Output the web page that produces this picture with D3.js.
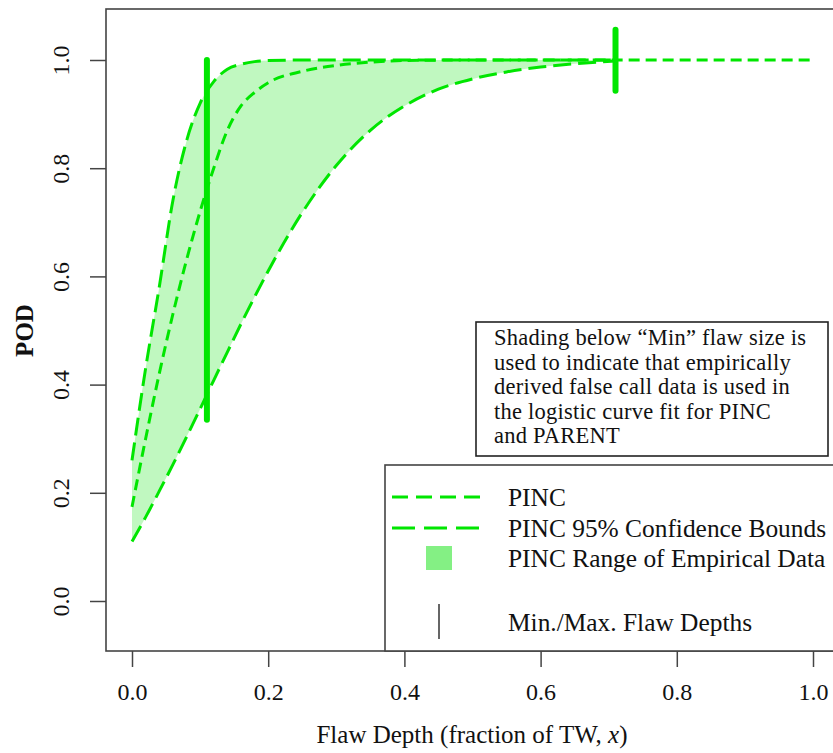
<!DOCTYPE html>
<html>
<head>
<meta charset="utf-8">
<script src="https://cdn.jsdelivr.net/npm/d3@7"></script>
<style>
  html, body { margin: 0; padding: 0; background: #fff; }
  svg { display: block; }
  text { font-family: "Liberation Serif", "Times New Roman", serif; fill: #111; }
</style>
</head>
<body>
<svg id="chart" width="833" height="753"></svg>
<script>
// ---- data ----
const boundX   = [0, 0.02, 0.04, 0.06, 0.08, 0.10, 0.12, 0.14, 0.16, 0.18, 0.20, 0.25, 0.30, 0.35, 0.40, 0.45, 0.50, 0.55, 0.60, 0.65, 0.71];
const upperPOD = [0.26, 0.43, 0.58, 0.74, 0.85, 0.92, 0.96, 0.983, 0.992, 0.997, 0.999, 1.0, 1.0, 1.0, 1.0, 1.0, 1.0, 1.0, 1.0, 1.0, 1.0];
const lowerPOD = [0.11, 0.155, 0.203, 0.252, 0.303, 0.355, 0.408, 0.46, 0.512, 0.562, 0.61, 0.718, 0.805, 0.87, 0.915, 0.946, 0.965, 0.978, 0.987, 0.993, 0.998];
const pincX    = [0, 0.02, 0.04, 0.06, 0.08, 0.10, 0.12, 0.14, 0.16, 0.18, 0.20, 0.25, 0.30, 0.35, 0.40, 0.50, 0.60, 0.70, 0.80, 0.90, 1.0];
const pincPOD  = [0.174, 0.30, 0.42, 0.53, 0.63, 0.72, 0.80, 0.87, 0.915, 0.94, 0.958, 0.979, 0.99, 0.996, 0.999, 1.0, 1.0, 1.0, 1.0, 1.0, 1.0];
const flawDepthX  = [0.11, 0.71];
const flawDepthLo = [0.335, 0.943];
const flawDepthHi = [1.0, 1.056];
const xTicks = [0, 0.2, 0.4, 0.6, 0.8, 1.0];
const yTicks = [0, 0.2, 0.4, 0.6, 0.8, 1.0];
const legendLabels = ["PINC", "PINC 95% Confidence Bounds", "PINC Range of Empirical Data", "Min./Max. Flaw Depths"];
const noteLines = ["Shading below \u201CMin\u201D flaw size is", "used to indicate that empirically", "derived false call data is used in", "the logistic curve fit for PINC", "and PARENT"];

// ---- layout ----
const svg = d3.select("#chart");
const GREEN = "#00e600";
const FILL = "#c0f8c0";
const x = d3.scaleLinear().domain([0, 1]).range([132, 813]);
const y = d3.scaleLinear().domain([0, 1]).range([601, 60]);
const box = {l: 106, t: 9, r: 840, b: 651};

svg.append("rect").attr("width", 833).attr("height", 753).attr("fill", "#fff");

// fill between bounds
const band = boundX.map((d, i) => ({x: d, lo: lowerPOD[i], hi: upperPOD[i]}));
svg.append("path").datum(band)
  .attr("fill", FILL)
  .attr("d", d3.area().x(d => x(d.x)).y0(d => y(d.lo)).y1(d => y(d.hi)).curve(d3.curveMonotoneX));

const lineGen = d3.line().x(d => x(d[0])).y(d => y(d[1])).curve(d3.curveMonotoneX);
// bounds
[upperPOD, lowerPOD].forEach(arr => {
  svg.append("path").datum(boundX.map((d, i) => [d, arr[i]]))
    .attr("fill", "none").attr("stroke", GREEN).attr("stroke-width", 3)
    .attr("stroke-dasharray", "18,7").attr("d", lineGen);
});
// PINC
svg.append("path").datum(pincX.map((d, i) => [d, pincPOD[i]]))
  .attr("fill", "none").attr("stroke", GREEN).attr("stroke-width", 3)
  .attr("stroke-dasharray", "11,6").attr("d", lineGen);

// min / max flaw depth lines
svg.selectAll(".flaw").data(flawDepthX).enter().append("line")
  .attr("x1", d => x(d)).attr("x2", d => x(d))
  .attr("y1", (d, i) => y(flawDepthLo[i])).attr("y2", (d, i) => y(flawDepthHi[i]))
  .attr("stroke", GREEN).attr("stroke-width", 6).attr("stroke-linecap", "round");

// plot box
svg.append("rect").attr("x", box.l).attr("y", box.t).attr("width", box.r - box.l).attr("height", box.b - box.t)
  .attr("fill", "none").attr("stroke", "#444").attr("stroke-width", 1.6);

// axes
const xAxis = svg.append("g").attr("transform", `translate(0,${box.b})`)
  .call(d3.axisBottom(x).tickValues(xTicks).tickFormat(d3.format(".1f")).tickSize(16).tickPadding(16));
xAxis.select(".domain").remove();
xAxis.selectAll(".tick line").attr("stroke", "#444").attr("stroke-width", 1.5);
xAxis.selectAll(".tick text").attr("font-size", 24).attr("font-family", "Liberation Serif").attr("fill", "#111");

const yAxis = svg.append("g").attr("transform", `translate(${box.l},0)`)
  .call(d3.axisLeft(y).tickValues(yTicks).tickFormat(d3.format(".1f")).tickSize(16).tickPadding(20));
yAxis.select(".domain").remove();
yAxis.selectAll(".tick line").attr("stroke", "#444").attr("stroke-width", 1.5);
yAxis.selectAll(".tick text").attr("font-size", 24).attr("font-family", "Liberation Serif").attr("fill", "#111")
  .attr("text-anchor", "middle").attr("x", null).attr("dy", null)
  .attr("transform", "translate(-45,0) rotate(-90)").attr("dominant-baseline", "central");

// axis titles
const xt = svg.append("text").attr("x", 472).attr("y", 743).attr("text-anchor", "middle").attr("font-size", 25);
xt.append("tspan").text("Flaw Depth (fraction of TW, ");
xt.append("tspan").attr("font-style", "italic").text("x");
xt.append("tspan").text(")");

svg.append("text").attr("transform", `translate(33,${(y(0)+y(1))/2}) rotate(-90)`)
  .attr("text-anchor", "middle").attr("font-size", 25).attr("font-weight", "bold").text("POD");

// note box
svg.append("rect").attr("x", 476).attr("y", 322).attr("width", 352).attr("height", 134)
  .attr("fill", "#fff").attr("stroke", "#222").attr("stroke-width", 1.6);
svg.selectAll(".note").data(noteLines).enter().append("text")
  .attr("x", 494).attr("y", (d, i) => 345 + i * 24.6).attr("font-size", 22.5)
  .attr("letter-spacing", 0.25).text(d => d);

// legend
svg.append("rect").attr("x", 385).attr("y", 465).attr("width", 455).attr("height", 186)
  .attr("fill", "#fff").attr("stroke", "#444").attr("stroke-width", 1.6);
const legY = [497, 528, 558, 622];
svg.append("line").attr("x1", 392).attr("x2", 480).attr("y1", legY[0]).attr("y2", legY[0])
  .attr("stroke", GREEN).attr("stroke-width", 3).attr("stroke-dasharray", "16,8");
svg.append("line").attr("x1", 392).attr("x2", 480).attr("y1", legY[1]).attr("y2", legY[1])
  .attr("stroke", GREEN).attr("stroke-width", 3).attr("stroke-dasharray", "23,9");
svg.append("rect").attr("x", 426).attr("y", legY[2] - 12).attr("width", 26).attr("height", 24).attr("fill", "#84f084");
svg.append("line").attr("x1", 439).attr("x2", 439).attr("y1", legY[3] - 18).attr("y2", legY[3] + 17)
  .attr("stroke", "#333").attr("stroke-width", 1.5);
svg.selectAll(".leg").data(legendLabels).enter().append("text")
  .attr("x", 508).attr("y", (d, i) => legY[i]).attr("dy", "0.35em").attr("font-size", 25.4).text(d => d);
</script>
</body>
</html>
